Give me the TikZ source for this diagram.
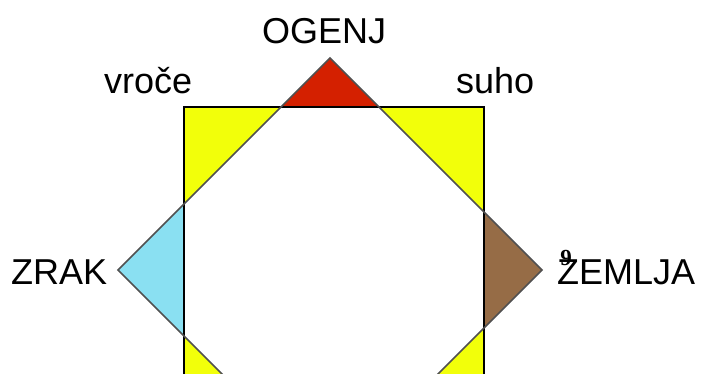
\documentclass[tikz,border=0pt]{standalone}
\usepackage{fontspec}
\setmainfont{Liberation Sans}
\newfontfamily\serifnine{Liberation Serif}
\definecolor{yel}{RGB}{242,255,10}
\definecolor{fire}{RGB}{212,32,0}
\definecolor{air}{RGB}{138,224,242}
\definecolor{earth}{RGB}{150,108,70}
\definecolor{dline}{RGB}{80,80,80}
\tikzset{
  lab/.style={font=\fontsize{36}{40}\selectfont, inner sep=0pt, anchor=base west},
  sq/.style={draw=black, line width=1.4pt},
  dm/.style={draw=dline, line width=1.6pt, line join=miter}
}
\begin{document}
\begin{tikzpicture}[x=1pt,y=-1pt]
\useasboundingbox (0,0) rectangle (706,373);
\clip (0,0) rectangle (706,373);
\fill[white] (0,0) rectangle (706,373);
% diamond tips
\begin{scope}
  \clip (330,58) -- (542,270) -- (330,482) -- (118,270) -- cycle;
  \fill[air] (100,0) rectangle (184,480);
  \fill[earth] (484,0) rectangle (560,480);
  \fill[fire] (0,0) rectangle (706,107);
\end{scope}
% square corners
\begin{scope}
  \clip (184,107) rectangle (484,407);
  \fill[yel] (184,107) rectangle (484,407);
  \fill[white] (330,58) -- (542,270) -- (330,482) -- (118,270) -- cycle;
\end{scope}
\draw[sq] (184,107) rectangle (484,407);
\draw[dm] (330,58) -- (542,270) -- (330,482) -- (118,270) -- cycle;
% labels
\node[lab] (ogenj) at (262,43) {OGENJ};
\node[lab] (vroce) at (104,93) {vroče};
\node[lab] (suho) at (456,93) {suho};
\node[lab] (zrak) at (11,284) {ZRAK};
\node[lab] (zemlja) at (557,284) {ZEMLJA};
\node[font=\serifnine\bfseries\fontsize{23}{25}\selectfont, inner sep=0pt] (nine) at (566,258) {9};
\end{tikzpicture}
\end{document}
